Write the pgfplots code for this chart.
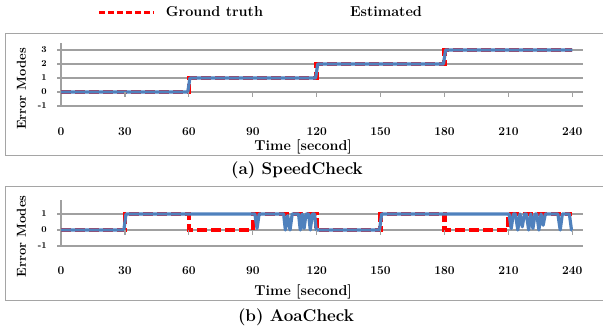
\documentclass[border=0pt]{standalone}
\usepackage{pgfplots}
\pgfplotsset{compat=1.18}
\definecolor{exblue}{RGB}{79,129,189}
\definecolor{gridc}{RGB}{160,160,160}
\definecolor{framec}{RGB}{165,165,165}
\pgfplotsset{myaxis/.style={
  scale only axis, width=522pt, xmin=0, xmax=245,
  axis x line*=bottom, axis y line*=left,
  axis line style={-, gridc, line width=1.2pt},
  xtick={0,30,...,240}, x tick style={draw=none},
  y tick style={gridc, line width=1.2pt}, tick align=outside, major tick length=4pt,
  ymajorgrids, major grid style={gridc, line width=1.2pt},
  /pgf/number format/assume math mode=true,
  xticklabel style={font=\fontsize{12}{12}\selectfont\bfseries, anchor=center},
  yticklabel style={font=\fontsize{9}{9}\selectfont\bfseries, anchor=east, inner sep=0pt, xshift=-10pt},
  xlabel={Time [second]}, ylabel={Error Modes},
  xlabel style={font=\fontsize{14.3}{15}\selectfont\bfseries, anchor=center},
  ylabel style={font=\fontsize{13}{14}\selectfont\bfseries, anchor=center},
  clip=false,
}}
\begin{document}
\begin{tikzpicture}
\useasboundingbox (0pt,0pt) rectangle (603pt,-333pt);
% frames
\draw[framec, line width=0.8pt] (604pt,-33.5pt) -- (5.5pt,-33.5pt) -- (5.5pt,-155.5pt) -- (604pt,-155.5pt);
\draw[framec, line width=0.8pt] (604pt,-186.5pt) -- (5.5pt,-186.5pt) -- (5.5pt,-300.8pt) -- (604pt,-300.8pt);
% (a)
\begin{axis}[myaxis, at={(61pt,-106pt)}, anchor=south west, height=63pt,
  ymin=-1, ymax=3.5, ytick={-1,0,1,2,3},
  xticklabel style={yshift=-22pt},
  xlabel style={at={(axis description cs:0.464,-0.643)}},
  ylabel style={at={(axis description cs:-0.0757,0.27)}},
  legend style={draw=none, fill=none, at={(axis description cs:0.383,1.492)}, anchor=center,
    font=\fontsize{14.4}{16}\selectfont\bfseries, legend columns=2,
    /tikz/every odd column/.append style={column sep=8pt},
    /tikz/every even column/.append style={column sep=20pt}},
  ]
\addplot[red, line width=4.5pt, dash pattern=on 10pt off 4pt,
  legend image code/.code={\draw[red, line width=3pt, dash pattern=on 6pt off 3pt] (0pt,0pt) -- (55pt,0pt);}]
  coordinates {(0,0)(60,0)(60,1)(120,1)(120,2)(180,2)(180,3)(240,3)};
\addlegendentry{Ground truth}
\addplot[exblue, line width=3.2pt, line join=round,
  legend image code/.code={\path[draw=none] (0pt,0pt) -- (55pt,0pt);}]
  coordinates {(0,0)(59.5,0)(60.5,1)(119.5,1)(120.5,2)(179.5,2)(180.5,3)(240,3)};
\addlegendentry{Estimated}
\pgfplotsinvokeforeach{30,60,90,120,150,180,210,240}{
  \draw[gridc, line width=1.2pt] (axis cs:#1,0) -- ++(0pt,-5pt);
}
\end{axis}
% (b)
\begin{axis}[myaxis, at={(61pt,-246pt)}, anchor=south west, height=46.4pt,
  ymin=-1, ymax=1.9, ytick={-1,0,1},
  xticklabel style={yshift=-20.7pt},
  xlabel style={at={(axis description cs:0.464,-0.993)}},
  ylabel style={at={(axis description cs:-0.0757,0.207)}},
  ]
\addplot[red, line width=4.5pt, dash pattern=on 10pt off 4pt]
  coordinates {(0,0)(30,0)(30,1)(60,1)(60,0)(90,0)(90,1)(120,1)(120,0)(150,0)(150,1)(180,1)(180,0)(210,0)(210,1)(240,1)};
\addplot[exblue, line width=3.2pt, line join=round]
  coordinates {(0,0)(29.5,0)(30.5,1)(91,1)(92,0.1)(93,1)
  (104.5,1)(105.3,0)(106.4,0.9)(107.5,0)(108.5,1)
  (111.5,1)(112.3,0)(113.2,1)(114.1,0.1)(115,1)(116.2,1)(117,0)(118,1)(119,1)(119.8,0)
  (149.5,0)(150.5,1)
  (209.5,1)(210.3,1)(211.3,0.1)(212.3,1)(213.3,1)(214.4,0)(215.4,1)(216.5,0.2)(217.5,1)(218.4,1)(219.5,0)(220.5,1)(221.5,0.1)(222.5,1)(223.3,1)(224.3,0)(225.3,1)(226.3,0.3)(227.3,1)
  (233.2,1)(234.3,0)(235.3,1)(238.6,1)(239.6,0)(240.2,0)};
\pgfplotsinvokeforeach{30,60,90,120,150,180,210,240}{
  \draw[gridc, line width=1.2pt] (axis cs:#1,0) -- ++(0pt,-5pt);
}
\end{axis}
% captions
\node[anchor=base, font=\fontsize{17}{18}\selectfont\bfseries, inner sep=0pt] at (297pt,-174.3pt) {(a) SpeedCheck};
\node[anchor=base, font=\fontsize{17}{18}\selectfont\bfseries, inner sep=0pt] at (296pt,-321.7pt) {(b) AoaCheck};
\end{tikzpicture}
\end{document}
